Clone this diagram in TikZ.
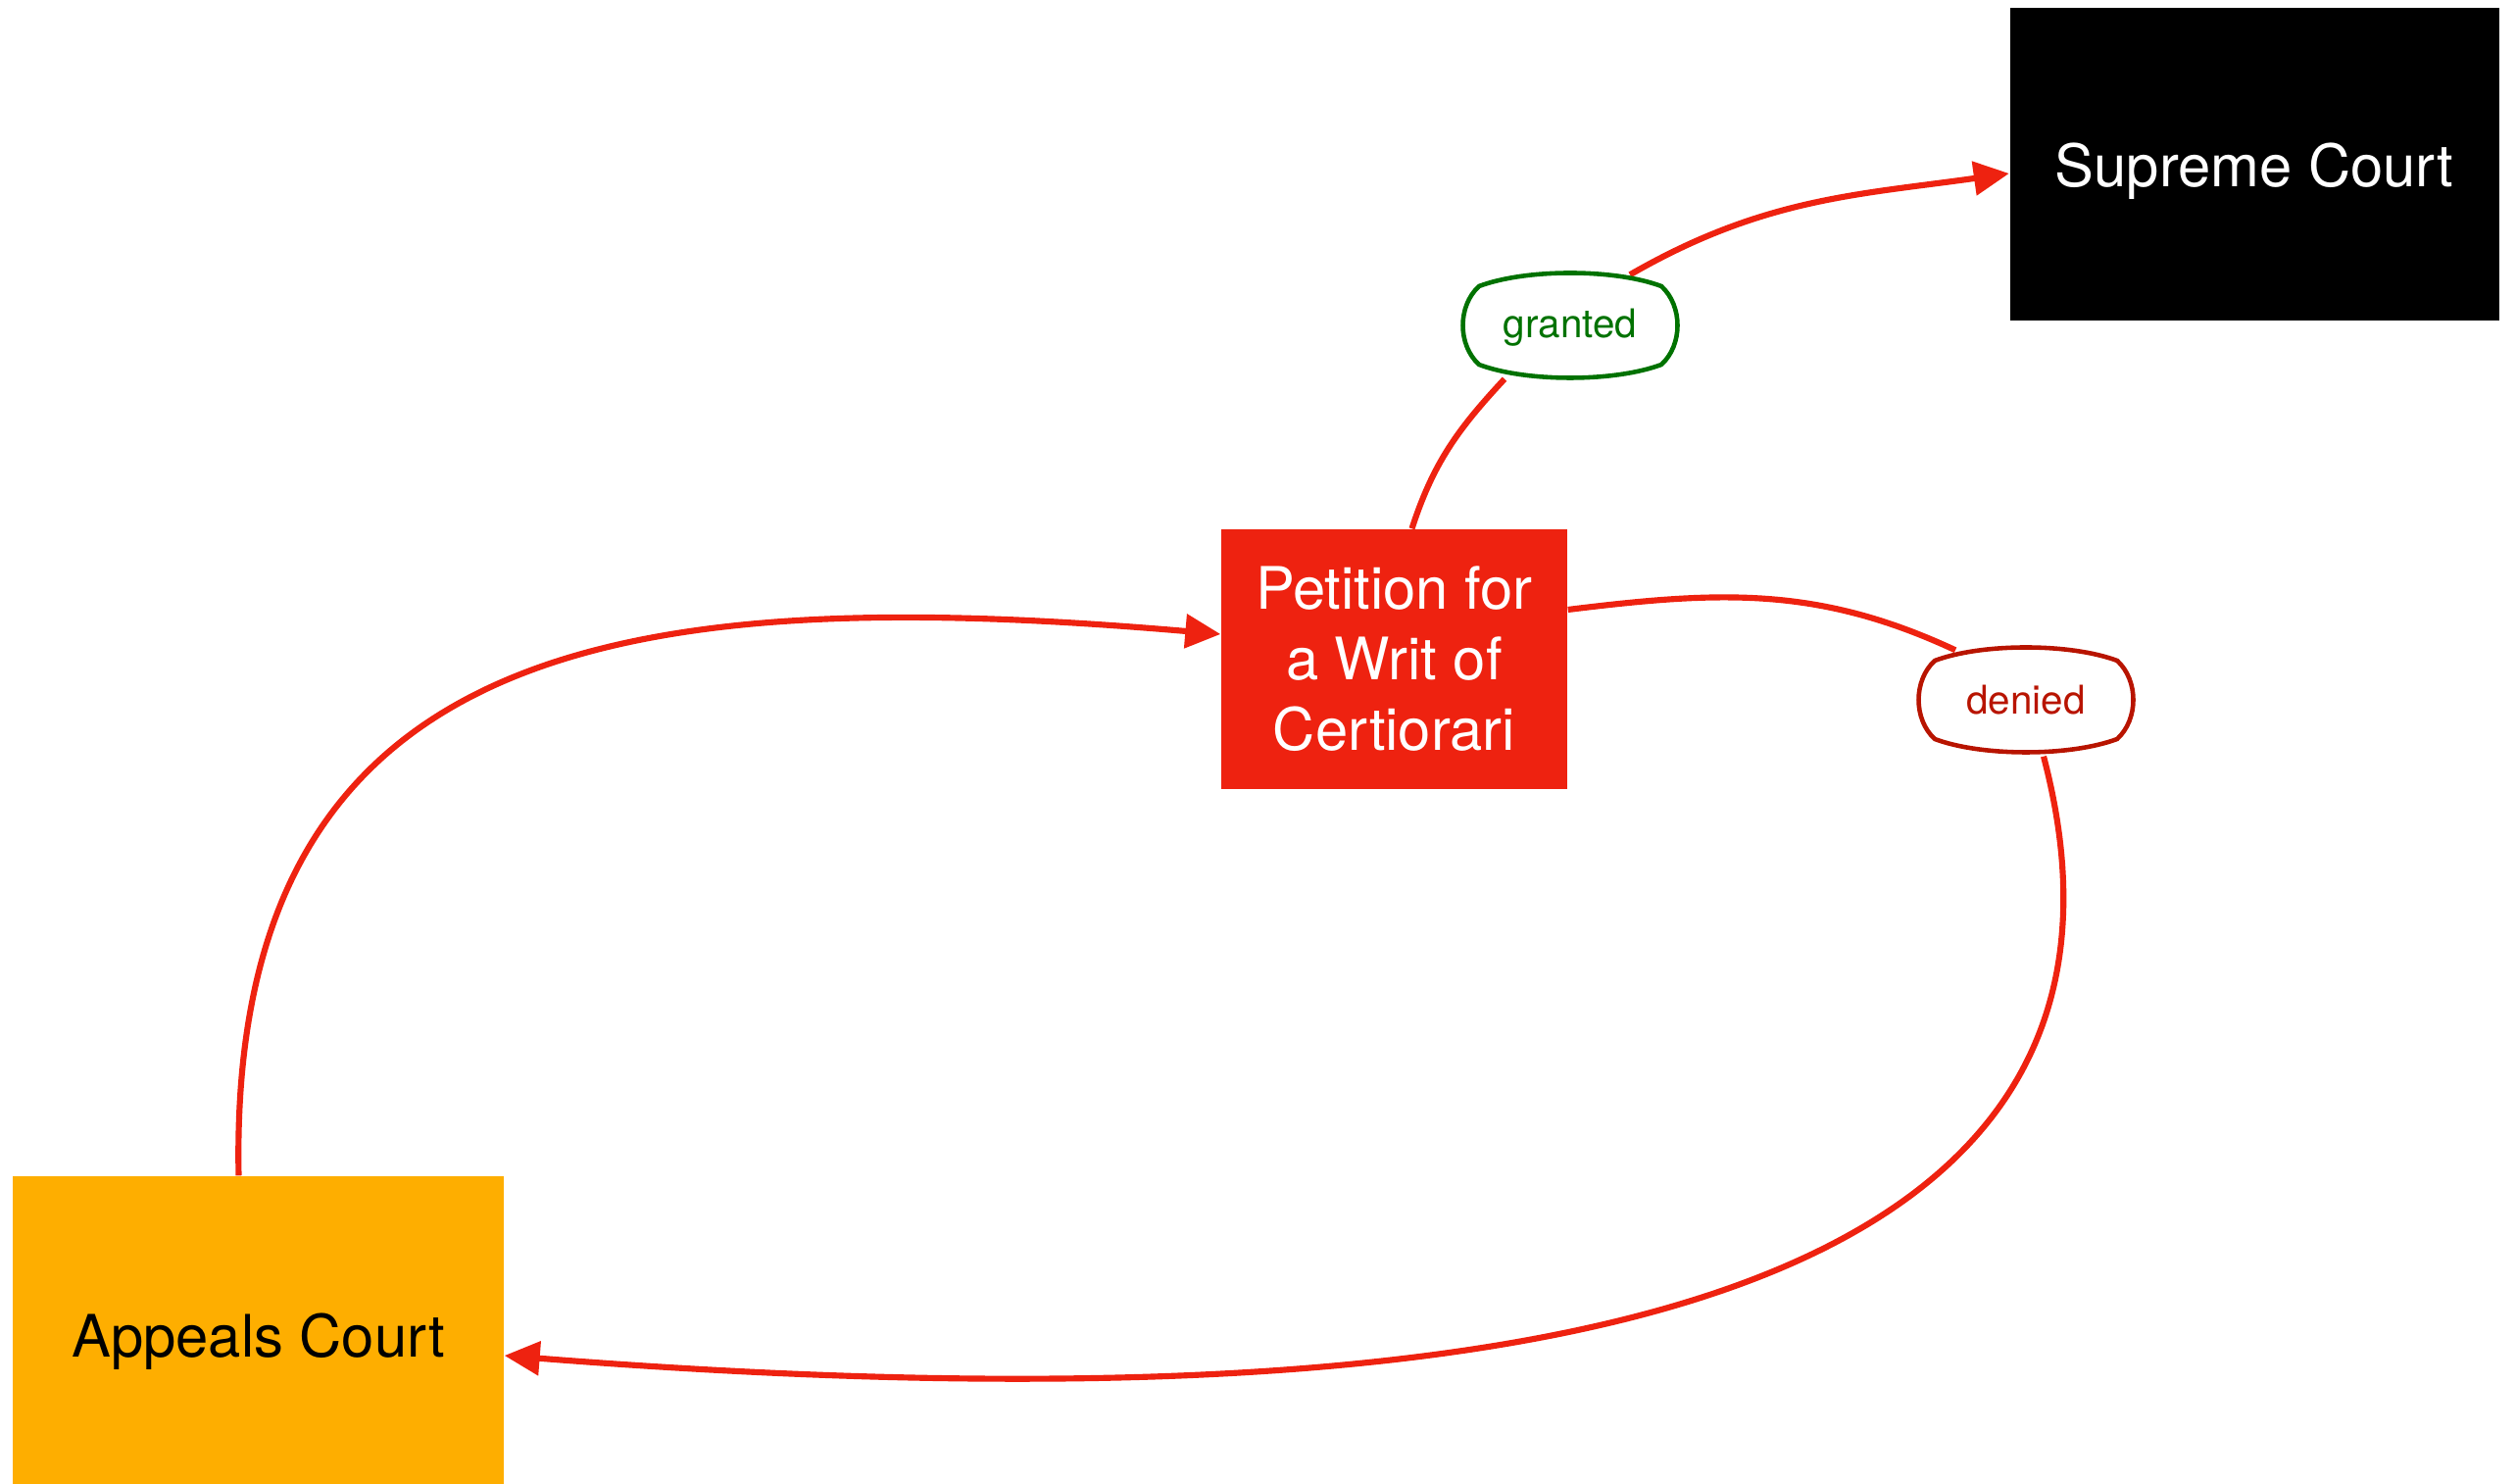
\documentclass[tikz,border=0pt]{standalone}
\usepackage{xcolor}
\usepackage{fontspec}
\setmainfont{TeX Gyre Heros}
\usepackage{tikz}
\usetikzlibrary{arrows.meta}
\pgfdeclarelayer{background}
\pgfsetlayers{background,main}
\definecolor{writred}{RGB}{238,34,16}
\definecolor{appealorange}{RGB}{254,174,0}
\definecolor{grantgreen}{RGB}{0,114,0}
\definecolor{denyred}{RGB}{184,20,0}

\tikzset{
  tag/.pic={\path[pic actions] (-0.93,0.40) .. controls (-0.45,0.58) and (0.45,0.58) .. (0.93,0.40)
    .. controls (1.15,0.2) and (1.15,-0.2) .. (0.93,-0.40)
    .. controls (0.45,-0.58) and (-0.45,-0.58) .. (-0.93,-0.40)
    .. controls (-1.15,-0.2) and (-1.15,0.2) .. cycle;}
}

\begin{document}
\begin{tikzpicture}[
    court/.style={inner sep=0pt, align=center, font=\fontsize{17}{20.5}\selectfont},
    tagtext/.style={inner sep=0pt, minimum width=2.2cm, minimum height=1.1cm, font=\fontsize{11.5}{13}\selectfont},
    tagline/.style={line width=1.3pt, fill=white},
    link/.style={line width=1.75pt, writred},
    flow/.style={link, -{Triangle[length=3.6mm, width=3.4mm]}}
  ]
    \useasboundingbox (0,0) rectangle (25.67,15.13);
    % Gerichte
    \node[court, fill=black, text=white, text depth=0pt, minimum width=4.99cm, minimum height=3.19cm] (supreme) at (23.00,13.45) {Supreme Court};
    \node[court, fill=writred, text=white, minimum width=3.53cm, minimum height=2.65cm] (petition) at (14.225,8.405) {Petition for\\a Writ of\\Certiorari};
    \node[court, fill=appealorange, text=black, text depth=0pt, minimum width=5.01cm, minimum height=3.24cm] (appeals) at (2.635,1.51) {Appeals Court};
    % Entscheidungen
    \pic[tagline, draw=grantgreen] at (16.02,11.81) {tag};
    \node[tagtext, text=grantgreen] (granted) at (16.02,11.79) {granted};
    \pic[tagline, draw=denyred] at (20.67,7.99) {tag};
    \node[tagtext, text=denyred] (denied) at (20.67,7.99) {denied};
    % Verbindungen
    \begin{pgfonlayer}{background}
      \draw[flow] ([xshift=-2mm]appeals.north) .. controls +(-0.11,5.5) and +(-6.05,0.52) .. ([yshift=2.55mm]petition.west);
      \draw[link] ([xshift=1.8mm]petition.north) to[out=72, in=-133] ([xshift=-6.7mm, yshift=0.3mm]granted.south);
      \draw[flow] ([xshift=6.1mm, yshift=-0.2mm]granted.north) to[out=30, in=188] ([yshift=-0.9mm]supreme.west);
      \draw[link] ([yshift=5.05mm]petition.east) to[out=7, in=155] ([xshift=-7.2mm, yshift=-0.5mm]denied.north);
      \draw[flow] ([xshift=1.8mm, yshift=-0.2mm]denied.south) .. controls +(1.5,-5.7) and +(10.2,-0.8) .. ([yshift=-2.1mm]appeals.east);
    \end{pgfonlayer}
\end{tikzpicture}
\end{document}
